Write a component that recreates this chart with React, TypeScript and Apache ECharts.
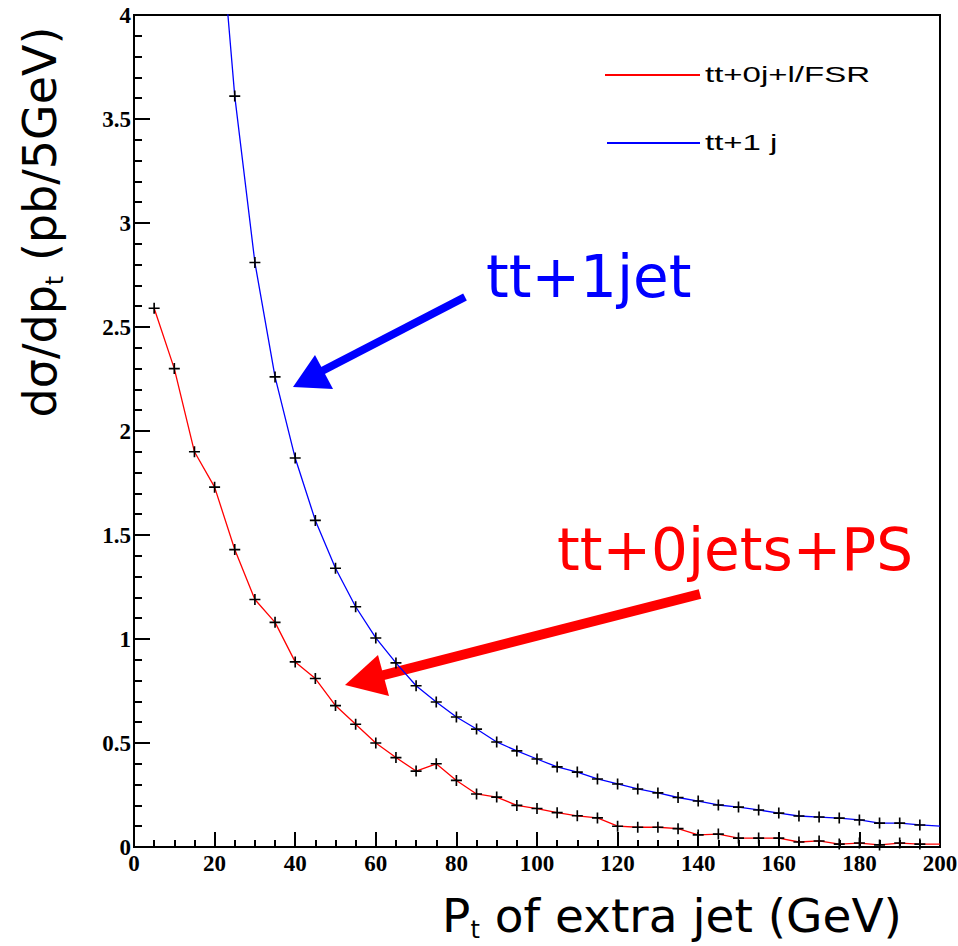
import React, { useEffect, useRef } from "react";
import * as echarts from "echarts";

// Transverse momentum of the extra jet (GeV), bin centres
const ptPS = [5, 10, 15, 20, 25, 30, 35, 40, 45, 50, 55, 60, 65, 70, 75, 80, 85, 90, 95, 100,
  105, 110, 115, 120, 125, 130, 135, 140, 145, 150, 155, 160, 165, 170, 175, 180, 185, 190, 195, 200];
// dσ/dpt for tt + 0 jets + parton shower (pb / 5 GeV)
const xsecPS = [2.59, 2.3, 1.9, 1.73, 1.43, 1.19, 1.08, 0.89, 0.81, 0.68, 0.59, 0.5, 0.43, 0.365, 0.4, 0.32,
  0.255, 0.24, 0.2, 0.185, 0.165, 0.15, 0.14, 0.1, 0.095, 0.095, 0.088, 0.058, 0.062, 0.043, 0.043, 0.043,
  0.024, 0.029, 0.014, 0.019, 0.01, 0.019, 0.014, 0.014];

const pt1j = [20, 25, 30, 35, 40, 45, 50, 55, 60, 65, 70, 75, 80, 85, 90, 95, 100,
  105, 110, 115, 120, 125, 130, 135, 140, 145, 150, 155, 160, 165, 170, 175, 180, 185, 190, 195, 200];
// dσ/dpt for tt + 1 jet matrix element (pb / 5 GeV)
const xsec1j = [4.76, 3.61, 2.81, 2.26, 1.87, 1.57, 1.34, 1.155, 1.005, 0.885, 0.775, 0.697, 0.625, 0.567,
  0.505, 0.462, 0.423, 0.385, 0.36, 0.327, 0.303, 0.279, 0.26, 0.238, 0.221, 0.202, 0.192, 0.178, 0.163,
  0.149, 0.144, 0.139, 0.13, 0.115, 0.115, 0.106, 0.1];

const legendNames = ["tt+0j+l/FSR", "tt+1 j"];
const lineColors = ["#ff0000", "#0000ff"];

const CROSS = "path://M8.5,0h3v8.5h8.5v3h-8.5v8.5h-3v-8.5h-8.5v-3h8.5z";
const TITLE_FONT = "DejaVu Sans";

function points(xs: number[], ys: number[]) {
  // the closing point sits on the frame edge and carries no marker
  return xs.map((x, i) =>
    i === xs.length - 1 ? { value: [x, ys[i]], symbol: "none" } : [x, ys[i]]
  );
}

export default function App() {
  const ref = useRef<HTMLDivElement>(null);

  useEffect(() => {
    if (!ref.current) return;
    const chart = echarts.init(ref.current, undefined, { renderer: "svg" });

    const tickLabel = {
      color: "#000",
      fontFamily: "Liberation Serif",
      fontWeight: "bold" as const,
      fontSize: 23,
    };

    const titleRich = {
      m: { fontFamily: TITLE_FONT, fontSize: 46, lineHeight: 54, fill: "#000" },
      s: { fontFamily: TITLE_FONT, fontSize: 24, lineHeight: 24, verticalAlign: "bottom", fill: "#000" },
    };

    chart.setOption({
      animation: false,
      backgroundColor: "#fff",
      grid: {
        left: 134,
        right: 18,
        top: 15,
        bottom: 99,
        show: true,
        borderColor: "#000",
        borderWidth: 2,
        backgroundColor: "transparent",
        outerBoundsMode: "none",
      },
      xAxis: {
        type: "value",
        min: 0,
        max: 200,
        interval: 20,
        axisLine: { lineStyle: { color: "#000", width: 2 } },
        axisTick: { inside: true, length: 15, lineStyle: { color: "#000", width: 2 } },
        minorTick: { show: true, splitNumber: 4, length: 7, lineStyle: { color: "#000", width: 2 } },
        splitLine: { show: false },
        axisLabel: { ...tickLabel, margin: 5 },
      },
      yAxis: {
        type: "value",
        min: 0,
        max: 4,
        interval: 0.5,
        axisLine: { lineStyle: { color: "#000", width: 2 } },
        axisTick: { inside: true, length: 16, lineStyle: { color: "#000", width: 2 } },
        minorTick: { show: true, splitNumber: 5, length: 8, lineStyle: { color: "#000", width: 2 } },
        splitLine: { show: false },
        axisLabel: { ...tickLabel, margin: 3 },
      },
      series: [
        {
          name: legendNames[0],
          type: "line",
          data: points(ptPS, xsecPS),
          symbol: CROSS,
          symbolSize: 11,
          itemStyle: { color: "#000" },
          lineStyle: { color: lineColors[0], width: 1.3 },
          clip: true,
        },
        {
          name: legendNames[1],
          type: "line",
          data: points(pt1j, xsec1j),
          symbol: CROSS,
          symbolSize: 11,
          itemStyle: { color: "#000" },
          lineStyle: { color: lineColors[1], width: 1.3 },
          clip: true,
        },
      ],
      graphic: [
        // legend
        { type: "line", shape: { x1: 605, y1: 75, x2: 700, y2: 75 }, style: { stroke: lineColors[0], lineWidth: 2 } },
        {
          type: "text", x: 705, y: 75, scaleX: 1.5,
          style: { text: legendNames[0], fill: "#000", font: "22px 'Liberation Sans'", textVerticalAlign: "middle" },
        },
        { type: "line", shape: { x1: 607, y1: 143, x2: 700, y2: 143 }, style: { stroke: lineColors[1], lineWidth: 2 } },
        {
          type: "text", x: 705, y: 143, scaleX: 1.5,
          style: { text: legendNames[1], fill: "#000", font: "22px 'Liberation Sans'", textVerticalAlign: "middle" },
        },
        // y axis title
        {
          type: "text", x: 40, y: 222, rotation: Math.PI / 2,
          style: {
            text: "{m|dσ/dp}{s|t}{m| (pb/5GeV)}",
            textAlign: "center",
            textVerticalAlign: "middle",
            rich: titleRich,
          },
        },
        // x axis title
        {
          type: "text", x: 672, y: 915,
          style: {
            text: "{m|P}{s|t}{m| of extra jet (GeV)}",
            textAlign: "center",
            textVerticalAlign: "middle",
            rich: {
              m: { ...titleRich.m, fontSize: 47 },
              s: titleRich.s,
            },
          },
        },
        // tt+1jet annotation and arrow
        {
          type: "text", x: 486, y: 277,
          style: { text: "tt+1jet", fill: "#0000ff", font: `58px '${TITLE_FONT}'`, textVerticalAlign: "middle" },
        },
        { type: "line", shape: { x1: 465, y1: 297, x2: 322, y2: 371 }, style: { stroke: "#0000ff", lineWidth: 8 } },
        { type: "polygon", shape: { points: [[293, 387], [315, 355], [333, 389]] }, style: { fill: "#0000ff" } },
        // tt+0jets+PS annotation and arrow
        {
          type: "text", x: 557, y: 550,
          style: { text: "tt+0jets+PS", fill: "#ff0000", font: `58px '${TITLE_FONT}'`, textVerticalAlign: "middle" },
        },
        { type: "line", shape: { x1: 700, y1: 594, x2: 380, y2: 676 }, style: { stroke: "#ff0000", lineWidth: 10 } },
        { type: "polygon", shape: { points: [[345, 685], [378, 655], [389, 696]] }, style: { fill: "#ff0000" } },
      ],
    });

    return () => chart.dispose();
  }, []);

  return <div ref={ref} style={{ position: "fixed", left: 0, top: 0, width: 958, height: 946 }} />;
}
